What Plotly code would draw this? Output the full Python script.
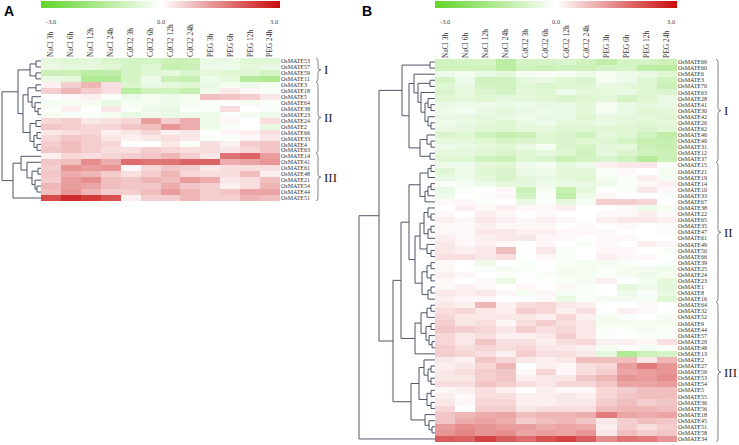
import plotly.graph_objects as go

W, H = 739, 445

def fx(p):
    return p / W

def fy(p):
    return 1 - p / H

# Conditions (columns)
conditions = ['NaCl 3h', 'NaCl 6h', 'NaCl 12h', 'NaCl 24h',
              'CdCl2 3h', 'CdCl2 6h', 'CdCl2 12h', 'CdCl2 24h',
              'PEG 3h', 'PEG 6h', 'PEG 12h', 'PEG 24h']
scale_ticks = [-3.0, 0.0, 3.0]

# Panel A
a_genes = [53, 57, 59, 11, 3, 18, 5, 64, 38, 23, 24, 2, 66, 33, 4, 63,
           14, 41, 61, 48, 21, 54, 44, 51]
a_values = [
    [-0.5, -0.6, -0.5, -0.7, -0.8, -0.8, -1.0, -1.0, -0.4, -0.4, -0.6, -0.6],
    [-0.4, -0.5, -0.5, -0.6, -0.8, -0.6, -1.1, -1.0, -0.3, -0.3, -0.5, -0.4],
    [-1.0, -1.0, -1.3, -1.2, -0.8, -0.6, -0.5, -0.7, -0.5, -0.6, -0.6, -0.8],
    [-0.4, -0.5, -1.5, -1.5, -0.8, -0.3, -1.0, -1.1, -0.3, -0.5, -1.4, -1.5],
    [0.2, 0.6, 0.9, 0.4, -0.7, -0.4, -0.5, -0.6, -0.4, -0.2, -0.3, -0.2],
    [0.6, 0.9, 0.6, 0.4, -1.3, -0.9, -0.9, -1.1, -0.3, 0.3, 0.1, -0.1],
    [0.0, 0.1, 0.2, -0.1, -0.3, -0.2, -0.3, -0.2, 0.8, 0.7, 0.6, 0.3],
    [-0.2, -0.2, -0.2, -0.4, -0.2, -0.2, -0.3, -0.2, -0.1, 0.0, -0.2, -0.1],
    [-0.1, 0.2, 0.0, 0.3, -0.1, -0.3, -0.4, -0.1, -0.1, 0.4, 0.0, -0.1],
    [-0.2, -0.1, -0.1, -0.2, -0.4, -0.3, -0.4, -0.3, -0.3, -0.1, -0.2, -0.3],
    [0.5, 0.6, 0.3, 0.4, 0.5, 1.2, 0.6, 1.0, -0.3, 0.1, 0.0, 0.4],
    [0.7, 0.6, 0.5, 0.5, 0.7, 0.8, 1.3, 1.0, -0.3, -0.1, 0.0, -0.4],
    [0.3, 0.4, 0.5, 0.2, 0.3, 0.5, 0.2, 0.3, 0.0, 0.1, 0.2, 0.4],
    [0.5, 0.7, 0.6, 0.3, 0.2, 0.3, 0.4, 0.3, -0.1, -0.1, 0.1, 0.3],
    [0.6, 0.8, 0.6, 0.5, 0.0, 0.0, 0.3, -0.1, 0.4, 0.2, 0.6, 0.7],
    [0.7, 0.8, 0.6, 0.4, 0.4, 0.6, 0.5, 0.4, 0.4, 0.3, 0.5, 0.7],
    [0.2, 0.5, 0.4, 0.5, 0.6, 0.7, 0.9, 0.6, 0.3, 1.7, 1.9, 1.2],
    [0.7, 0.8, 1.4, 1.0, 1.8, 1.7, 1.7, 1.9, 1.9, 1.0, 1.1, 1.3],
    [0.6, 1.3, 1.2, 1.3, 0.1, 0.5, 0.7, 0.6, 0.3, 0.4, 0.4, 0.4],
    [0.7, 1.0, 0.9, 0.6, 0.4, 0.6, 0.9, 0.5, 0.4, 0.4, 0.8, 0.2],
    [0.6, 1.2, 1.4, 0.8, 0.7, 0.9, 0.8, 1.2, 1.0, 0.3, 0.4, 0.8],
    [0.9, 1.2, 1.1, 0.8, 0.7, 0.7, 1.0, 0.7, 0.6, 0.2, 0.4, 0.9],
    [0.8, 1.3, 0.9, 0.6, 0.6, 0.8, 1.2, 0.9, 0.6, 0.7, 1.1, 1.1],
    [2.2, 2.6, 2.4, 2.1, 0.2, 0.6, 0.6, 0.9, 0.6, 0.6, 0.9, 0.8],
]
# tree: [left, right, merge height]; leaves are gene numbers
a_tree = [[[[53, 57, 5], [59, 11, 5], 11],
           [[[3, 18, 5], [5, [64, [38, 23, 3], 6], 9], 13],
            [[24, 2, 5], [[66, 33, 4], [4, 63, 4], 7], 11], 18], 23],
          [[14, [41, [[61, 48, 3], [21, [54, 44, 4], 6], 9], 14], 20], 51, 28], 39]
a_groups = [('I', 0, 3), ('II', 4, 15), ('III', 16, 23)]

# Panel B
b_genes = [69, 60, 6, 3, 70, 63, 28, 41, 30, 42, 26, 62, 46, 40, 31, 12, 37,
           15, 21, 19, 14, 10, 33, 67, 38, 22, 65, 35, 47, 61, 49, 50, 66, 39,
           25, 24, 23, 1, 8, 16,
           64, 32, 52, 9, 44, 57, 29, 48, 13, 2, 27, 59, 53, 54, 5, 55, 36, 56,
           18, 45, 51, 58, 34]
b_values = [
    [-0.9, -0.8, -0.8, -1.3, -0.8, -0.8, -0.7, -0.9, -1.2, -0.8, -0.8, -1.0],
    [-0.9, -0.9, -0.9, -1.3, -0.9, -1.0, -0.9, -1.0, -0.8, -0.8, -1.3, -1.3],
    [-0.3, -0.2, -0.4, -0.5, -0.2, -0.1, -0.2, -0.3, -0.2, -0.3, -0.4, -0.6],
    [-0.8, -0.3, -0.9, -0.9, -0.5, -0.4, -0.6, -0.7, -0.2, -0.3, -0.6, -0.9],
    [-0.6, -0.4, -0.8, -0.9, -0.6, -0.7, -0.6, -0.6, -0.4, -0.5, -0.6, -1.0],
    [-0.7, -0.5, -0.7, -0.8, -0.5, -0.6, -0.3, -0.5, -0.5, -0.4, -0.6, -0.7],
    [-0.6, -0.5, -0.6, -0.5, -0.5, -0.6, -0.7, -0.6, -0.5, -0.8, -0.6, -0.4],
    [-0.4, -0.3, -0.3, -0.4, -0.3, -0.4, -0.4, -0.5, -0.2, -0.4, -0.5, -0.4],
    [-0.3, -0.2, -0.4, -0.5, -0.4, -0.3, -0.4, -0.5, -0.2, -0.4, -0.6, -0.5],
    [-0.4, -0.4, -0.5, -0.4, -0.3, -0.4, -0.4, -0.6, -0.4, -0.5, -0.5, -0.6],
    [-0.3, -0.4, -0.5, -0.6, -0.4, -0.3, -0.5, -0.5, -0.4, -0.5, -0.6, -0.5],
    [-0.4, -0.5, -0.6, -0.6, -0.5, -0.5, -0.6, -0.6, -0.6, -0.6, -0.7, -0.6],
    [-0.7, -0.6, -0.9, -1.1, -1.0, -0.6, -0.7, -0.9, -0.5, -0.6, -0.9, -1.2],
    [-0.5, -0.5, -0.6, -0.8, -0.7, -0.6, -0.7, -0.6, -0.6, -0.8, -1.1, -1.1],
    [-0.3, -0.4, -0.5, -0.6, -0.4, -0.2, -0.7, -0.8, -0.5, -0.5, -1.0, -1.1],
    [-0.5, -0.5, -0.6, -0.7, -0.6, -0.5, -0.6, -0.9, -0.5, -0.7, -0.9, -1.0],
    [-0.6, -0.6, -0.9, -1.0, -0.6, -0.7, -1.0, -0.8, -0.7, -0.9, -1.4, -1.0],
    [-0.3, -0.3, -0.5, -0.6, -0.3, -0.2, -0.5, -0.3, 0.2, 0.3, 0.3, -0.1],
    [-0.6, -0.3, -0.6, -0.7, -0.4, -0.3, -0.5, -0.5, -0.1, 0.1, 0.0, -0.2],
    [-0.4, -0.3, -0.5, -0.7, -0.5, -0.4, -0.5, -0.6, -0.2, -0.1, 0.2, -0.2],
    [-0.1, -0.2, -0.3, -0.5, -0.5, -0.3, -0.4, -0.4, -0.3, -0.1, 0.1, 0.2],
    [-0.4, -0.1, 0.0, 0.1, -1.0, -0.2, -1.1, -0.5, 0.0, -0.1, 0.3, 0.1],
    [-0.3, 0.0, -0.1, 0.1, -0.8, -0.1, -1.2, -0.3, 0.1, 0.0, 0.0, -0.1],
    [0.1, 0.1, -0.1, 0.0, -0.4, -0.1, -0.5, -0.2, 0.6, 0.6, 0.5, 0.0],
    [0.0, 0.2, 0.1, 0.2, 0.1, 0.1, 0.2, 0.0, 0.0, 0.1, -0.3, -0.2],
    [0.1, 0.0, 0.2, 0.1, 0.0, 0.1, 0.0, 0.0, 0.1, 0.1, 0.2, 0.1],
    [0.2, 0.1, 0.3, 0.2, 0.1, 0.2, 0.1, 0.0, 0.2, 0.3, 0.3, 0.2],
    [0.1, 0.1, 0.2, 0.1, 0.1, 0.1, 0.0, 0.1, 0.0, 0.1, 0.0, -0.1],
    [0.1, 0.1, 0.3, 0.3, 0.2, 0.2, 0.1, 0.1, 0.1, 0.0, 0.0, -0.1],
    [0.2, 0.1, 0.2, 0.3, 0.3, 0.1, 0.1, 0.0, 0.1, 0.1, 0.0, 0.0],
    [0.3, 0.1, 0.2, 0.1, 0.0, 0.1, 0.0, -0.1, 0.1, 0.0, 0.2, 0.1],
    [0.3, 0.2, 0.3, 0.8, 0.0, 0.3, -0.1, 0.0, 0.1, 0.1, 0.0, -0.1],
    [0.4, 0.4, 0.3, 0.4, 0.0, 0.1, -0.1, 0.0, 0.2, 0.1, 0.1, 0.0],
    [0.1, 0.0, -0.3, 0.0, -0.1, 0.0, -0.1, -0.2, -0.2, -0.1, 0.0, -0.1],
    [0.1, 0.0, -0.1, -0.2, -0.1, 0.0, -0.2, -0.2, -0.1, -0.2, -0.2, -0.3],
    [0.2, 0.1, 0.0, -0.1, 0.0, -0.1, -0.2, -0.2, -0.1, -0.2, -0.3, -0.2],
    [0.1, 0.0, 0.1, -0.4, 0.0, 0.0, -0.1, -0.2, 0.2, 0.0, -0.2, -0.5],
    [0.1, 0.2, 0.1, 0.0, 0.1, 0.0, 0.1, -0.1, 0.0, -0.5, -0.3, -0.5],
    [0.3, 0.2, 0.3, 0.1, -0.2, 0.1, -0.2, -0.1, 0.0, -0.3, -0.1, -0.4],
    [0.2, 0.1, 0.1, 0.0, 0.0, 0.1, -0.4, -0.1, -0.2, -0.2, -0.2, -0.6],
    [0.3, 0.2, 0.9, 0.2, 0.4, 0.5, 0.3, 0.2, 0.0, 0.0, 0.1, 0.0],
    [0.4, 0.5, 0.3, 0.2, 0.6, 0.5, 0.2, 0.4, 0.0, 0.2, 0.1, 0.0],
    [0.5, 0.3, 0.3, 0.3, 0.3, 0.2, 0.5, 0.2, -0.2, -0.1, 0.0, -0.2],
    [0.6, 0.3, 0.4, 0.1, 0.4, 0.6, 0.4, 0.3, -0.2, -0.2, -0.2, -0.2],
    [0.7, 0.6, 0.5, 0.3, 0.6, 0.4, 0.5, 0.3, -0.1, -0.1, -0.2, -0.1],
    [0.5, 0.3, 0.4, 0.2, 0.2, 0.3, 0.6, 0.3, -0.1, 0.0, -0.1, -0.1],
    [0.5, 0.3, 0.7, 0.4, 0.4, 0.2, 0.4, 0.5, 0.2, 0.2, 0.1, 0.4],
    [0.6, 0.4, 0.5, 0.4, 0.5, 0.3, 0.3, 0.2, -0.2, 0.0, -0.2, -0.1],
    [0.6, 0.5, 0.4, 0.2, 0.6, 0.4, 0.4, 0.3, -0.5, -1.5, -1.0, -0.8],
    [0.3, 0.2, 0.7, 0.5, 0.3, 0.2, 0.3, 0.8, 0.8, 0.8, 0.3, 0.9],
    [0.2, 0.3, 0.5, 0.9, 0.0, 0.2, 0.1, 0.4, 0.5, 1.2, 1.6, 1.3],
    [0.3, 0.4, 0.6, 0.7, 0.1, 0.5, 0.1, 0.4, 0.6, 1.1, 1.2, 1.3],
    [0.3, 0.3, 0.6, 0.7, 0.2, 0.3, 0.3, 0.7, 0.9, 1.3, 1.2, 1.4],
    [0.4, 0.4, 0.7, 0.6, 0.4, 0.3, 0.5, 0.5, 0.7, 1.1, 1.1, 1.2],
    [0.1, 0.2, 0.4, 0.2, 0.0, 0.2, 0.1, 0.1, 0.5, 0.6, 0.8, 0.8],
    [0.2, 0.1, 0.4, 0.4, 0.2, 0.2, 0.3, 0.2, 0.5, 0.7, 0.8, 0.8],
    [0.3, 0.1, 0.5, 0.5, 0.2, 0.2, 0.3, 0.3, 0.6, 0.8, 0.6, 0.7],
    [0.5, 0.0, 0.6, 0.6, 0.3, 0.4, 0.4, 0.4, 0.8, 0.9, 0.9, 0.8],
    [0.7, 0.9, 1.0, 1.1, 0.8, 0.9, 0.9, 1.0, 1.6, 1.1, 1.0, 1.1],
    [0.7, 1.0, 1.1, 1.0, 0.6, 0.8, 0.9, 0.7, 0.3, 0.6, 0.8, 0.7],
    [1.2, 1.4, 1.3, 1.2, 1.2, 1.0, 1.1, 1.0, 0.2, 0.6, 0.4, 0.6],
    [1.3, 1.5, 1.3, 1.4, 1.1, 1.2, 1.1, 1.3, 0.3, 0.8, 0.6, 0.7],
    [2.0, 1.9, 2.3, 2.0, 1.8, 2.1, 2.3, 2.0, 1.4, 1.7, 1.6, 1.3],
]
b_tree_I = [[69, 60, 5],
            [[6, [[3, 70, 5], [63, [[28, [41, 30, 4], 7], [42, [26, 62, 4], 7], 10], 14], 17], 21],
             [[46, [40, 31, 4], 8], [12, 37, 5], 15], 26], 33]
b_tree_II = [[[[15, 21, 4], 19, 7], [[[14, 10, 4], 33, 7], 67, 10], 15],
             [[[[38, [22, 65, 4], 7], [[35, 47, 4], 61, 7], 11], [49, [50, 66, 4], 8], 15],
              [[[39, 25, 4], [24, 23, 4], 8], [[1, 8, 4], 16, 7], 13], 20], 26]
b_tree_III_up = [[[[64, 32, 4], 52, 8], [[9, 44, 4], [57, [29, 48, 3], 6], 9], 14], 13, 20]
b_tree_III_low = [[[2, [[27, 59, 4], [53, 54, 4], 7], 11], [[5, 55, 4], [36, 56, 4], 8], 16],
                  [18, [45, [51, 58, 3], 6], 10], 24]
b_tree = [[b_tree_I, [[b_tree_II, b_tree_III_up, 34], b_tree_III_low, 42], 56], 34, 76]
b_groups = [('I', 0, 16), ('II', 17, 39), ('III', 40, 62)]

SERIF = 'Liberation Serif'
LINE = '#4e5566'
scale = [[0, '#62d52a'], [0.5, '#ffffff'], [1, '#c90a0a']]


def dendro(node, genes, xs, ys):
    if not isinstance(node, list):
        return genes.index(node), 0
    left, right, h = node
    y1, h1 = dendro(left, genes, xs, ys)
    y2, h2 = dendro(right, genes, xs, ys)
    xs += [h1, h, h, h2, None]
    ys += [y1, y1, y2, y2, None]
    return (y1 + y2) / 2, h


fig = go.Figure()
annotations = []
shapes = []


def key(a):
    return ('xaxis' if a[0] == 'x' else 'yaxis') + a[1:]


def panel(n, genes, values, tree, groups, hm_x, hm_y, dd_x, letter, brace_x):
    xa, ya = 'x%d' % (3 * n - 2), 'y%d' % (3 * n - 2)
    xd, yd = 'x%d' % (3 * n - 1), 'y%d' % (3 * n - 1)
    xc, yc = 'x%d' % (3 * n), 'y%d' % (3 * n)
    rows = len(genes)
    fig.add_trace(go.Heatmap(
        z=values, x=list(range(12)), y=list(range(rows)),
        xaxis=xa, yaxis=ya, zmin=-3, zmax=3, colorscale=scale,
        showscale=False))
    # colour scale strip
    fig.add_trace(go.Heatmap(
        z=[scale_ticks], x=scale_ticks, y=[0], xaxis=xc, yaxis=yc,
        zmin=-3, zmax=3, colorscale=scale, zsmooth='best', showscale=False,
        hoverinfo='skip'))
    xs, ys = [], []
    dendro(tree, genes, xs, ys)
    fig.add_trace(go.Scatter(x=xs, y=ys, xaxis=xd, yaxis=yd, mode='lines',
                             line=dict(color=LINE, width=1), hoverinfo='skip',
                             showlegend=False))
    dom_y = [fy(hm_y[1]), fy(hm_y[0])]
    fig.update_layout({
        key(xa): dict(domain=[fx(hm_x[0]), fx(hm_x[1])], anchor=ya, side='top',
                      range=[-0.5, 11.5], tickvals=list(range(12)),
                      ticktext=conditions, tickangle=-90, ticks='',
                      showgrid=False, zeroline=False, automargin=False,
                      tickfont=dict(family=SERIF, size=7.5, color='#333')),
        key(ya): dict(domain=dom_y, anchor=xa, side='right',
                      range=[rows - 0.5, -0.5], tickvals=list(range(rows)),
                      ticktext=['OsMATE%d' % g for g in genes], ticks='',
                      showgrid=False, zeroline=False, automargin=False,
                      tickfont=dict(family=SERIF, size=6, color='#333')),
        key(xd): dict(domain=[fx(dd_x[0]), fx(dd_x[1])], anchor=yd,
                      range=[dd_x[1] - dd_x[0], 0], visible=False),
        key(yd): dict(domain=dom_y, anchor=xd, range=[rows - 0.5, -0.5],
                      visible=False),
        key(xc): dict(domain=[fx(hm_x[0]), fx(hm_x[1])], anchor=yc,
                      range=[-3, 3], visible=False),
        key(yc): dict(domain=[fy(8), fy(1)], anchor=xc, range=[-0.5, 0.5],
                      visible=False),
    })
    # colour bar labels
    for v, px, anc in zip(scale_ticks,
                          [hm_x[0] + 3, (hm_x[0] + hm_x[1]) / 2, hm_x[1]],
                          ['left', 'center', 'right']):
        annotations.append(dict(x=fx(px), y=fy(16), xref='paper', yref='paper',
                                text='%.1f' % v, showarrow=False, xanchor=anc,
                                font=dict(family=SERIF, size=6.5, color='#444')))
    annotations.append(dict(x=fx(dd_x[0] + 2), y=fy(1), xref='paper', yref='paper',
                            text='<b>%s</b>' % letter, showarrow=False,
                            xanchor='left', yanchor='top',
                            font=dict(family='Liberation Sans', size=14, color='black')))
    # group braces
    bx = fx(brace_x)
    b1, b2 = fx(brace_x - 2), fx(brace_x + 3)
    for name, r0, r1 in groups:
        top, bot = r0 - 0.45, r1 + 0.45
        mid = (top + bot) / 2
        d = 0.5
        path = ('M %f,%f Q %f,%f %f,%f L %f,%f Q %f,%f %f,%f Q %f,%f %f,%f L %f,%f Q %f,%f %f,%f' %
                (b1, top, bx, top, bx, top + d, bx, mid - d, bx, mid, b2, mid,
                 bx, mid, bx, mid + d, bx, bot - d, bx, bot, b1, bot))
        shapes.append(dict(type='path', path=path, xref='paper', yref=ya,
                           line=dict(color='#666', width=0.8)))
        annotations.append(dict(x=fx(brace_x + 4), y=mid, xref='paper', yref=ya,
                                text=name, showarrow=False, xanchor='left',
                                font=dict(family=SERIF, size=13, color='#222')))


panel(1, a_genes, a_values, a_tree, a_groups, (41, 280), (58, 201), (0, 41), 'A', 318)
panel(2, b_genes, b_values, b_tree, b_groups, (435, 677), (59, 442), (358, 435), 'B', 718)

fig.update_layout(width=W, height=H, margin=dict(l=0, r=0, t=0, b=0),
                  plot_bgcolor='white', paper_bgcolor='white',
                  showlegend=False, annotations=annotations, shapes=shapes)
fig.write_html('out.html', config={'displayModeBar': False},
               post_script="document.body.style.margin='0px';document.body.style.overflow='hidden';")
